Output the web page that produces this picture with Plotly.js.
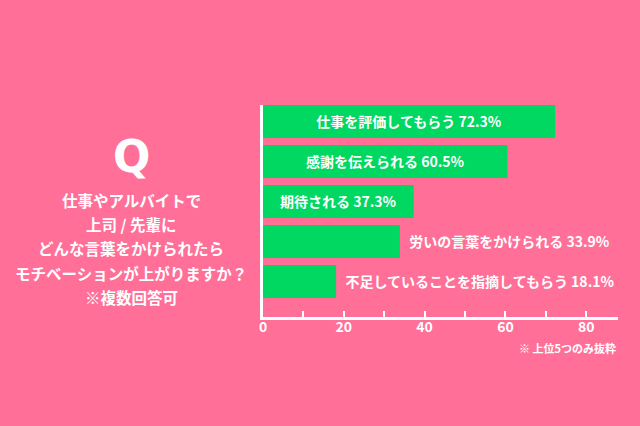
<!DOCTYPE html>
<html>
<head>
<meta charset="utf-8">
<script src="https://cdn.plot.ly/plotly-3.0.1.min.js"></script>
<style>
  html, body { margin: 0; padding: 0; background: #ff6f98; }
  #chart { width: 640px; height: 426px; }
</style>
</head>
<body>
<div id="chart"></div>
<script>
const categories = [
  '仕事を評価してもらう',
  '感謝を伝えられる',
  '期待される',
  '労いの言葉をかけられる',
  '不足していることを指摘してもらう'
];
const values = [72.3, 60.5, 37.3, 33.9, 18.1];
const tickVals = [0, 10, 20, 30, 40, 50, 60, 70, 80];
const tickText = ['0', '', '20', '', '40', '', '60', '', '80'];
const questionLines = [
  '仕事やアルバイトで',
  '上司 / 先輩に',
  'どんな言葉をかけられたら',
  'モチベーションが上がりますか？',
  '※複数回答可'
];
const note = '※ 上位5つのみ抜粋';

const PINK = '#ff6f98';
const GREEN = '#00d862';
const FONT = '"Noto Sans CJK JP", "Noto Sans", sans-serif';

// plot area in pixels
const L = 263, R = 618, T = 105, B = 317;
const px = x => (x - L) / (R - L);
const py = y => (B - y) / (B - T);

const positions = values.map(v => v > 36 ? 'inside' : 'outside');
const labels = categories.map((c, i) =>
  (positions[i] === 'outside' ? '  ' : '') + c + ' ' + values[i] + '%');

const annotations = [{
  text: 'Q', x: px(131), y: py(156), xref: 'paper', yref: 'paper',
  xanchor: 'center', yanchor: 'middle',
  showarrow: false, font: { family: '"DejaVu Sans"', size: 44, color: '#fff', weight: 'bold' }
}];
const lineY = [200, 224, 248, 273, 297];
questionLines.forEach((t, i) => annotations.push({
  text: t, x: px(131), y: py(lineY[i]), xref: 'paper', yref: 'paper',
  xanchor: 'center', yanchor: 'middle',
  showarrow: false, font: { family: FONT, size: 15.5, color: '#fff', weight: 'bold' }
}));
annotations.push({
  text: note, x: px(618), y: py(348), xref: 'paper', yref: 'paper',
  xanchor: 'right', yanchor: 'middle', showarrow: false,
  font: { family: FONT, size: 11, color: '#fff', weight: 'bold' }
});

Plotly.newPlot('chart', [{
  type: 'bar',
  orientation: 'h',
  x: values,
  y: categories,
  text: labels,
  textposition: positions,
  insidetextanchor: 'middle',
  constraintext: 'none',
  cliponaxis: false,
  textfont: { family: FONT, size: 14, color: '#fff', weight: 'bold' },
  marker: { color: GREEN, line: { width: 0 } },
  hoverinfo: 'none'
}], {
  width: 640, height: 426,
  paper_bgcolor: PINK,
  plot_bgcolor: PINK,
  showlegend: false,
  margin: { l: L, r: 640 - R, t: T, b: 426 - B, pad: 0 },
  bargap: 0.175,
  font: { family: FONT, color: '#fff' },
  xaxis: {
    range: [0, (R - L) / 4.04],
    tickvals: tickVals, ticktext: tickText,
    ticks: 'inside', ticklen: 6, tickwidth: 2, tickcolor: '#fff',
    ticklabelstandoff: -5,
    showline: true, linecolor: '#fff', linewidth: 3,
    showgrid: false, zeroline: false,
    tickfont: { family: FONT, size: 14, color: '#fff', weight: 'bold' },
    fixedrange: true
  },
  yaxis: {
    type: 'category',
    range: [4.89, -0.41],
    showticklabels: false, ticks: '',
    showline: true, linecolor: '#fff', linewidth: 3,
    showgrid: false, zeroline: false,
    fixedrange: true
  },
  annotations
}, { displayModeBar: false, staticPlot: true });
</script>
</body>
</html>
